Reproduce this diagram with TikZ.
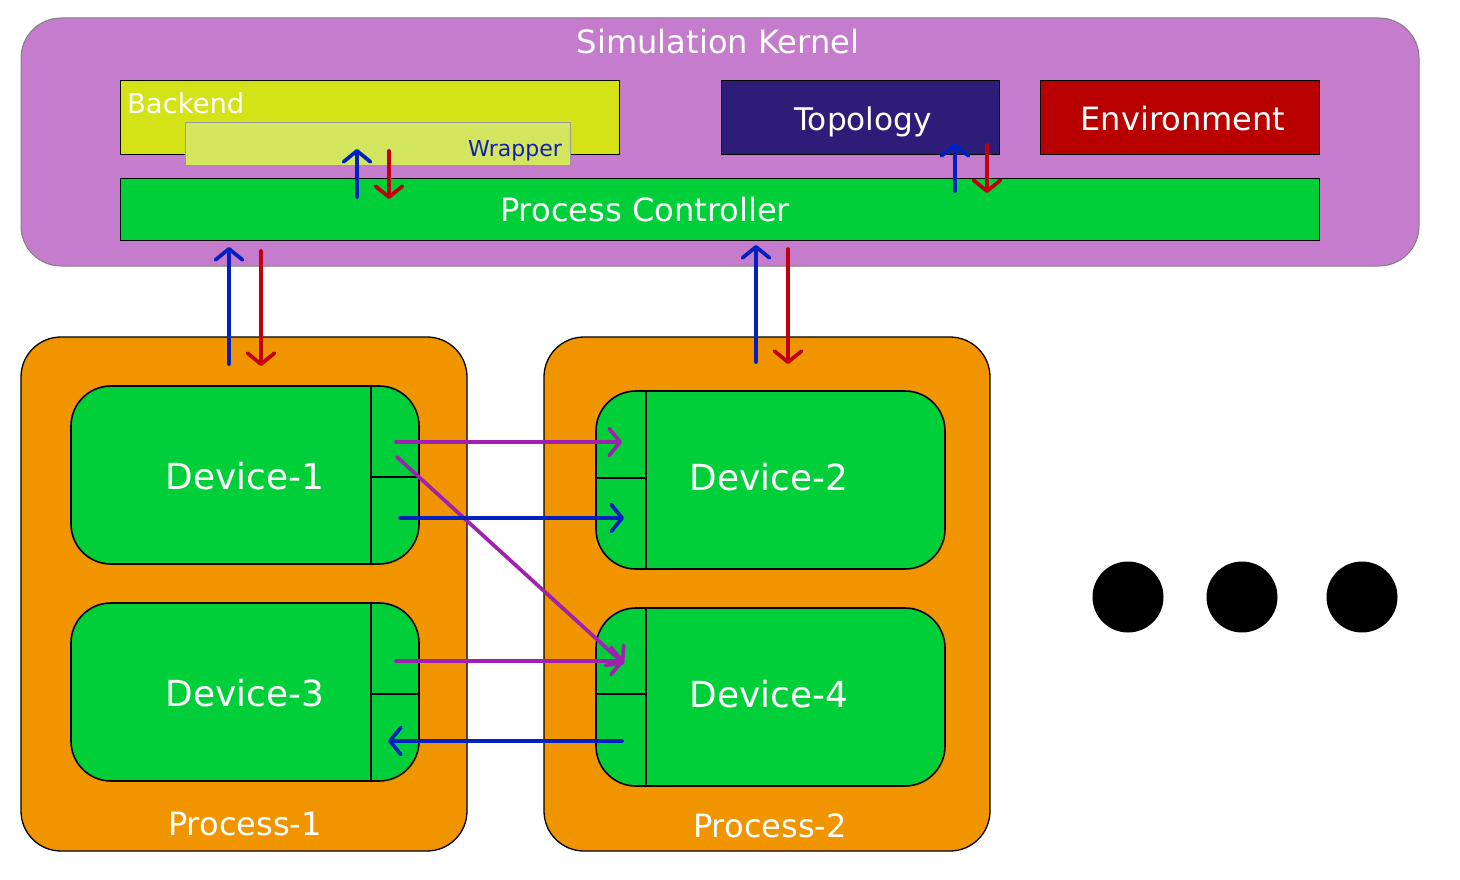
\documentclass[tikz,border=0pt]{standalone}
\usepackage{fontspec}
\setmainfont{DejaVu Sans}
\usetikzlibrary{arrows.meta}
\definecolor{kern}{RGB}{197,124,204}
\definecolor{backc}{RGB}{212,227,23}
\definecolor{wrapc}{RGB}{212,229,95}
\definecolor{topoc}{RGB}{46,29,120}
\definecolor{envc}{RGB}{184,0,0}
\definecolor{pcg}{RGB}{0,207,58}
\definecolor{procc}{RGB}{240,148,0}
\definecolor{ablue}{RGB}{0,32,192}
\definecolor{ared}{RGB}{192,0,16}
\definecolor{apurp}{RGB}{160,32,176}
\definecolor{wtext}{RGB}{16,32,176}
\tikzset{
  box/.style={draw=black, line width=1pt, inner sep=0pt, outer sep=0pt, anchor=north west},
  rbox/.style={box, rounded corners=40pt},
  lbl/.style={text=white, inner sep=0pt, font=\fontsize{32.1}{38}\selectfont},
  dlbl/.style={text=white, inner sep=0pt, font=\fontsize{35.9}{42}\selectfont},
  arr/.style={line width=3.7pt, line cap=round, -{Straight Barb[round,length=11pt,width=27pt]}},
  dot/.style={circle, fill=black, minimum size=71pt, inner sep=0pt}
}
\begin{document}
\begin{tikzpicture}[x=1pt,y=-1pt]
\useasboundingbox (0,0) rectangle (1460,880);
% kernel
\node[rbox, draw=gray, fill=kern, minimum width=1398pt, minimum height=248pt] (kernel) at (21,18) {};
\node[lbl, anchor=base] (ktitle) at (718,54) {Simulation Kernel};
\node[box, fill=backc, minimum width=499pt, minimum height=74pt] (backend) at (120,81) {};
\node[lbl, anchor=base west, font=\fontsize{27.4}{32}\selectfont] (backtxt) at (127,114) {Backend};
\node[box, draw=gray!80, fill=wrapc, minimum width=385pt, minimum height=43pt] (wrapper) at (185,123) {};
\node[anchor=base east, inner sep=0pt, text=wtext, font=\fontsize{22}{26}\selectfont] (wraptxt) at (562,157) {Wrapper};
\node[box, fill=topoc, minimum width=278pt, minimum height=74pt] (topo) at (721,81) {};
\node[lbl, anchor=base, font=\fontsize{31.2}{37}\selectfont] (topotxt) at (863,131) {Topology};
\node[box, fill=envc, minimum width=279pt, minimum height=74pt] (env) at (1040,81) {};
\node[lbl, anchor=base] (envtxt) at (1183,131) {Environment};
\node[box, fill=pcg, minimum width=1199pt, minimum height=61pt] (pc) at (120,179) {};
\node[lbl, anchor=base] (pctxt) at (645,222) {Process Controller};
% processes
\node[rbox, line width=1.3pt, fill=procc, minimum width=446pt, minimum height=514pt] (p1) at (21,337) {};
\node[lbl, anchor=base] (p1txt) at (245,835) {Process-1};
\node[rbox, line width=1.3pt, fill=procc, minimum width=446pt, minimum height=514pt] (p2) at (544,337) {};
\node[lbl, anchor=base] (p2txt) at (770,837) {Process-2};
% devices
\node[rbox, line width=1.6pt, fill=pcg, minimum width=348pt, minimum height=178pt] (d1) at (71,386) {};
\draw[line width=2.5pt] (371,386) -- (371,564) (371,477) -- (419,477);
\node[dlbl, anchor=base] (d1txt) at (245,489) {Device-1};
\node[rbox, line width=1.6pt, fill=pcg, minimum width=348pt, minimum height=178pt] (d3) at (71,603) {};
\draw[line width=2.5pt] (371,603) -- (371,781) (371,694) -- (419,694);
\node[dlbl, anchor=base] (d3txt) at (245,706) {Device-3};
\node[rbox, line width=1.6pt, fill=pcg, minimum width=349pt, minimum height=178pt] (d2) at (596,391) {};
\draw[line width=2.5pt] (646,391) -- (646,569) (596,478) -- (646,478);
\node[dlbl, anchor=base] (d2txt) at (769,490) {Device-2};
\node[rbox, line width=1.6pt, fill=pcg, minimum width=349pt, minimum height=178pt] (d4) at (596,608) {};
\draw[line width=2.5pt] (646,608) -- (646,786) (596,694) -- (646,694);
\node[dlbl, anchor=base] (d4txt) at (769,707) {Device-4};
% arrow endpoints
\coordinate (wb1) at (357,197); \coordinate (wb2) at (357,149);
\coordinate (wr1) at (389,151); \coordinate (wr2) at (389,199);
\coordinate (tb1) at (955,191); \coordinate (tb2) at (955,143);
\coordinate (tr1) at (987,145); \coordinate (tr2) at (987,193);
\coordinate (p1b1) at (229,364); \coordinate (p1b2) at (229,247);
\coordinate (p1r1) at (261,251); \coordinate (p1r2) at (261,366);
\coordinate (p2b1) at (756,362); \coordinate (p2b2) at (756,245);
\coordinate (p2r1) at (788,249); \coordinate (p2r2) at (788,364);
\coordinate (o1a) at (396,442); \coordinate (o1b) at (622,442);
\coordinate (o2a) at (397,457); \coordinate (o2b) at (624,664);
\coordinate (o3a) at (400,518); \coordinate (o3b) at (624,518);
\coordinate (o4a) at (396,661); \coordinate (o4b) at (624,661);
\coordinate (o5a) at (622,741); \coordinate (o5b) at (388,741);
\draw[arr, ablue] (wb1) -- (wb2);
\draw[arr, ared] (wr1) -- (wr2);
\draw[arr, ablue] (tb1) -- (tb2);
\draw[arr, ared] (tr1) -- (tr2);
\draw[arr, ablue] (p1b1) -- (p1b2);
\draw[arr, ared] (p1r1) -- (p1r2);
\draw[arr, ablue] (p2b1) -- (p2b2);
\draw[arr, ared] (p2r1) -- (p2r2);
\draw[arr, apurp] (o1a) -- (o1b);
\draw[arr, apurp] (o2a) -- (o2b);
\draw[arr, ablue] (o3a) -- (o3b);
\draw[arr, apurp] (o4a) -- (o4b);
\draw[arr, ablue] (o5a) -- (o5b);
% dots
\node[dot] (dot1) at (1128,597) {};
\node[dot] (dot2) at (1242,597) {};
\node[dot] (dot3) at (1362,597) {};
\end{tikzpicture}
\end{document}
